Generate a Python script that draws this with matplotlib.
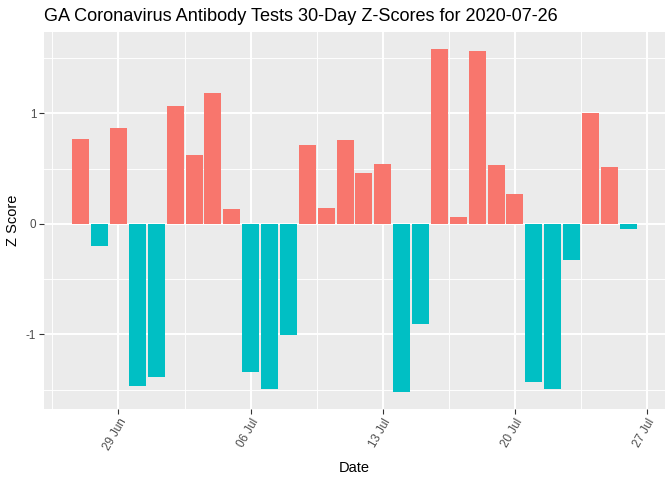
"""
Recreate GA Coronavirus Antibody Tests 30-day z-score bar chart (ggplot look).
"""

import numpy as np
import pandas as pd
import matplotlib
matplotlib.use("Agg")
import matplotlib.pyplot as plt
import matplotlib.dates as mdates
from matplotlib.ticker import FixedLocator

_PANEL = "#EBEBEB"
_POS = "#F8766D"
_NEG = "#00BFC4"
_TICK_TXT = "#4D4D4D"
_TICK = "#333333"

plt.rcParams["font.family"] = ["Liberation Sans", "DejaVu Sans"]

dates = pd.date_range("2020-06-27", "2020-07-26", freq="D")
z_scores = [
    0.77, -0.20, 0.87, -1.47, -1.39, 1.07, 0.62, 1.18, 0.13, -1.34,
    -1.49, -1.01, 0.71, 0.14, 0.76, 0.46, 0.54, -1.52, -0.91, 1.58,
    0.06, 1.56, 0.53, 0.27, -1.43, -1.49, -0.33, 1.00, 0.51, -0.05,
]
major_dates = pd.to_datetime(["2020-06-29", "2020-07-06", "2020-07-13",
                              "2020-07-20", "2020-07-27"])
y_major = [-1, 0, 1]
y_minor = [-1.5, -0.5, 0.5, 1.5]

z = np.array(z_scores)
colors = np.where(z >= 0, _POS, _NEG)

fig = plt.figure(figsize=(6.72, 4.8), dpi=100)
ax = fig.add_axes([44 / 672, 1 - 409 / 480, (665 - 44) / 672, (409 - 32) / 480])
ax.set_facecolor(_PANEL)

ax.bar(dates, z, width=0.9, color=colors, zorder=3)

# ggplot-style limits: 5% expansion of data range
x0 = mdates.date2num(dates[0]) - 0.45
x1 = mdates.date2num(dates[-1]) + 0.45
dx = (x1 - x0) * 0.05
ax.set_xlim(x0 - dx, x1 + dx)
ymin, ymax = min(z.min(), 0), max(z.max(), 0)
dy = (ymax - ymin) * 0.05
ax.set_ylim(ymin - dy, ymax + dy)

maj = mdates.date2num(major_dates)
ax.xaxis.set_major_locator(FixedLocator(maj))
ax.xaxis.set_minor_locator(FixedLocator(np.concatenate([maj - 3.5, [maj[-1] + 3.5]])))
ax.xaxis.set_major_formatter(mdates.DateFormatter("%d %b"))
ax.yaxis.set_major_locator(FixedLocator(y_major))
ax.yaxis.set_minor_locator(FixedLocator(y_minor))
ax.set_yticklabels(["-1", "0", "1"])

ax.grid(which="major", color="white", lw=1.37, zorder=0)
ax.grid(which="minor", color="white", lw=0.68, zorder=0)
ax.set_axisbelow(True)
for sp in ax.spines.values():
    sp.set_visible(False)

ax.tick_params(which="major", length=3.5, width=0.8, color=_TICK,
               labelcolor=_TICK_TXT, labelsize=8.4, pad=2)
ax.tick_params(which="minor", length=0)
for lbl in ax.get_xticklabels():
    lbl.set_rotation(60)
    lbl.set_ha("right")
    lbl.set_va("top")
    lbl.set_rotation_mode("anchor")

ax.set_xlabel("Date", fontsize=10.5, labelpad=6)
ax.set_ylabel("Z Score", fontsize=10.5, labelpad=4)
ax.set_title("GA Coronavirus Antibody Tests 30-Day Z-Scores for 2020-07-26",
             fontsize=13.1, loc="left", pad=8)

fig.savefig("out.png", dpi=100, facecolor="white")
